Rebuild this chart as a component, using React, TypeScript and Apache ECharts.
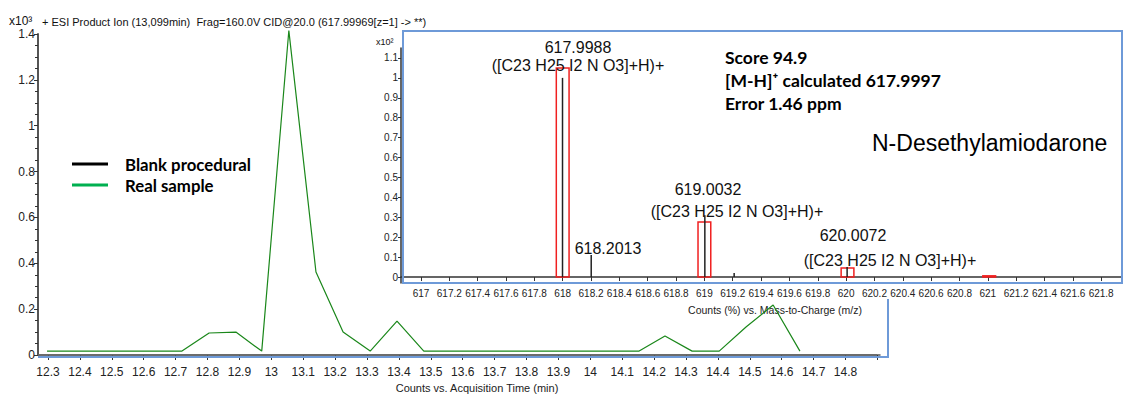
import React, { useEffect, useRef } from 'react';
import * as echarts from 'echarts';

// ---------- Data (main chromatogram, counts x10^3) ----------
const timeMin = [12.297, 12.72, 12.805, 12.889, 12.97, 13.055, 13.14, 13.225, 13.31, 13.394, 13.478, 14.153, 14.234, 14.319, 14.404, 14.488, 14.573, 14.657];
const realCounts = [0.017, 0.017, 0.096, 0.1, 0.017, 1.415, 0.362, 0.1, 0.017, 0.148, 0.017, 0.017, 0.083, 0.017, 0.017, 0.122, 0.218, 0.017];
const blankCounts: number[][] = [];

const timeLabels = [12.3, 12.4, 12.5, 12.6, 12.7, 12.8, 12.9, 13, 13.1, 13.2, 13.3, 13.4, 13.5, 13.6, 13.7, 13.8, 13.9, 14, 14.1, 14.2, 14.3, 14.4, 14.5, 14.6, 14.7, 14.8];
const timeTicks = [...timeLabels, 14.9];

// ---------- Data (inset mass spectrum, counts % x10^2) ----------
const peakMz = [617.9988, 618.2013, 619.0032, 619.21, 620.0072];
const peakAbund = [1.0, 0.11, 0.31, 0.02, 0.05];
const isoMz = [618.0, 619.0, 620.01, 621.01];
const isoAbund = [1.05, 0.276, 0.045, 0.006];
const isoHalfWidth = 0.045;

const mzTicks = [617, 617.2, 617.4, 617.6, 617.8, 618, 618.2, 618.4, 618.6, 618.8, 619, 619.2, 619.4, 619.6, 619.8, 620, 620.2, 620.4, 620.6, 620.8, 621, 621.2, 621.4, 621.6, 621.8];
const abundTicks = [0, 0.1, 0.2, 0.3, 0.4, 0.5, 0.6, 0.7, 0.8, 0.9, 1, 1.1];

const formula = '([C23 H25 I2 N O3]+H)+';
const peakLabels = ['617.9988', formula, '618.2013', '619.0032', formula, '620.0072', formula];
const peakLabelPos = [[578, 47], [578, 65], [608, 248], [708, 189], [737, 211], [853, 235], [890, 260]];

const scoreLines = ['Score 94.9', '[M-H]\u207A calculated 617.9997', 'Error 1.46 ppm'];
const compoundName = 'N-Desethylamiodarone';
const mainTitle = '+ ESI Product Ion (13,099min)  Frag=160.0V CID@20.0 (617.99969[z=1] -> **)';

const SANS = '"Liberation Sans", Arial, sans-serif';
const BOLD = 'Lato, "Open Sans", sans-serif';
const BLUE = '#6e9ad8';

export default function App() {
  const ref = useRef<HTMLDivElement>(null);
  useEffect(() => {
    const chart = echarts.init(ref.current!, null, { renderer: 'svg' });
    const txt = (text: string, x: number, y: number, size: number, extra: any = {}) => ({
      type: 'text', x, y, silent: true, z: 50,
      style: { text, fill: '#111', fontSize: size, fontFamily: SANS, align: 'center', verticalAlign: 'middle', ...extra },
    });
    const option: any = {
      animation: false,
      textStyle: { fontFamily: SANS },
      grid: [
        { left: 38, top: 34, right: 259, bottom: 50 },
        { left: 401, top: 48, right: 17, bottom: 122 },
      ],
      legend: {
        left: 67, top: 149, orient: 'vertical', icon: 'rect', itemWidth: 36, itemHeight: 3, itemGap: 1,
        textStyle: { fontFamily: BOLD, fontWeight: 'bold', fontSize: 16.8, color: '#000', padding: [0, 0, 0, 12], lineHeight: 20 },
        data: [
          { name: 'Blank procedural', itemStyle: { color: '#000' } },
          { name: 'Real sample', itemStyle: { color: '#00b050' } },
        ],
      },
      xAxis: [
        {
          type: 'value', gridIndex: 0, min: 12.2687, max: 14.908, offset: 4,
          axisLine: { show: true, lineStyle: { color: '#555', width: 1.5 } },
          axisTick: { show: true, customValues: timeTicks, length: 5, lineStyle: { color: '#333' } },
          axisLabel: { customValues: timeLabels, fontSize: 12, color: '#222', margin: 7 },
          splitLine: { show: false },
          name: 'Counts vs. Acquisition Time (min)', nameLocation: 'middle', nameGap: 18,
          nameTextStyle: { fontSize: 11, color: '#222', padding: [0, 0, 0, 36] },
        },
        {
          type: 'value', gridIndex: 1, min: 616.859, max: 621.947,
          axisLine: { show: true, lineStyle: { color: '#333', width: 1.5 } },
          axisTick: { show: true, customValues: mzTicks, length: 4, lineStyle: { color: '#333' } },
          axisLabel: { customValues: mzTicks, fontSize: 10, color: '#222', margin: 5 },
          splitLine: { show: false },
          name: 'Counts (%) vs. Mass-to-Charge (m/z)', nameLocation: 'middle', nameGap: 21,
          nameTextStyle: { fontSize: 10.5, color: '#222', padding: [0, 0, 0, 27] },
        },
      ],
      yAxis: [
        {
          type: 'value', gridIndex: 0, min: 0, max: 1.4, interval: 0.2,
          axisLine: { show: true, lineStyle: { color: '#555', width: 2 } },
          axisTick: { show: true, length: 4, lineStyle: { color: '#333' } },
          minorTick: { show: true, splitNumber: 4, length: 3, lineStyle: { color: '#333' } },
          axisLabel: { fontSize: 12, color: '#222', margin: 3 },
          splitLine: { show: false },
        },
        {
          type: 'value', gridIndex: 1, min: -0.03, max: 1.15,
          axisLine: { show: true, lineStyle: { color: '#333', width: 1.5 } },
          axisTick: { show: true, customValues: abundTicks, length: 3, lineStyle: { color: '#333' } },
          axisLabel: { customValues: abundTicks, fontSize: 10, color: '#222', margin: 3 },
          splitLine: { show: false },
        },
      ],
      series: [
        { name: 'Blank procedural', type: 'line', xAxisIndex: 0, yAxisIndex: 0, data: blankCounts, symbol: 'none', itemStyle: { color: '#000' }, lineStyle: { color: '#000', width: 1 } },
        {
          name: 'Real sample', type: 'line', xAxisIndex: 0, yAxisIndex: 0, clip: false, symbol: 'none',
          data: timeMin.map((t, i) => [t, realCounts[i]]),
          itemStyle: { color: '#1a871a' }, lineStyle: { color: '#1a871a', width: 1.2 },
        },
        {
          name: 'Isotope model', type: 'custom', xAxisIndex: 1, yAxisIndex: 1, clip: false,
          data: isoMz.map((m, i) => [m, isoAbund[i]]),
          renderItem: (_p: any, api: any) => {
            const a = api.coord([api.value(0) - isoHalfWidth, api.value(1)]);
            const b = api.coord([api.value(0) + isoHalfWidth, 0]);
            return {
              type: 'rect',
              shape: { x: a[0], y: a[1], width: b[0] - a[0], height: Math.max(b[1] - a[1], 0.5) },
              style: { fill: 'none', stroke: '#f02020', lineWidth: 1.5 },
            };
          },
        },
        {
          name: 'Spectrum', type: 'custom', xAxisIndex: 1, yAxisIndex: 1,
          data: peakMz.map((m, i) => [m, peakAbund[i]]),
          renderItem: (_p: any, api: any) => {
            const a = api.coord([api.value(0), 0]);
            const b = api.coord([api.value(0), api.value(1)]);
            return {
              type: 'line',
              shape: { x1: a[0], y1: a[1], x2: b[0], y2: b[1] },
              style: { stroke: '#222', lineWidth: 1.5 },
            };
          },
        },
      ],
      graphic: [
        // frames
        { type: 'rect', silent: true, z: 40, shape: { x: 403, y: 31, width: 719, height: 252 }, style: { fill: 'none', stroke: BLUE, lineWidth: 2 } },
        { type: 'line', silent: true, z: 40, shape: { x1: 38, y1: 355, x2: 877, y2: 355 }, style: { stroke: '#666', lineWidth: 1.5 } },
        { type: 'line', silent: true, z: 40, shape: { x1: 38, y1: 357, x2: 888, y2: 357 }, style: { stroke: BLUE, lineWidth: 2 } },
        { type: 'line', silent: true, z: 40, shape: { x1: 888, y1: 299, x2: 888, y2: 358 }, style: { stroke: BLUE, lineWidth: 2 } },
        // titles
        txt('x10\u00B3', 9, 21, 12, { align: 'left' }),
        txt(mainTitle, 42, 22, 11, { align: 'left' }),
        txt('x10\u00B2', 376, 42, 9, { align: 'left' }),
        // peak annotations
        ...peakLabels.map((t, i) => txt(t, peakLabelPos[i][0], peakLabelPos[i][1], 16)),
        // score block
        ...scoreLines.map((t, i) => txt(t, 725, 57 + i * 23, 17.5, { align: 'left', fontFamily: BOLD, fontWeight: 'bold', fill: '#000' })),
        txt(compoundName, 872, 143, 23, { align: 'left', fill: '#000' }),
      ],
    };
    chart.setOption(option);
    return () => chart.dispose();
  }, []);
  return <div ref={ref} style={{ position: 'absolute', left: 0, top: 0, width: 1139, height: 405, background: '#fff' }} />;
}
